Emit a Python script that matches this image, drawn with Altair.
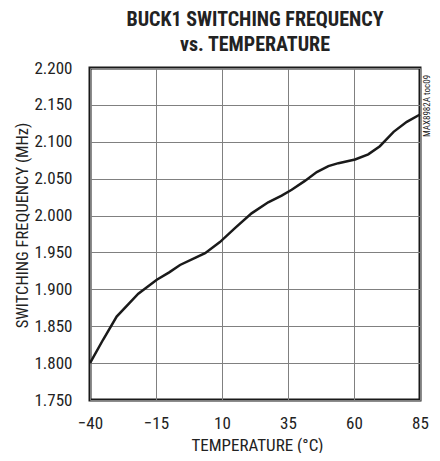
import altair as alt
import pandas as pd

temps = [-40, -35, -29.9, -25, -21.7, -14.7, -10, -5.9, 0, 3.6, 9.2, 14.9, 21.2, 27.5, 32.6, 36.4, 41.4, 45.9, 50.3, 54.1, 60.4, 65.4, 69.8, 75, 80, 85]
freqs = [1.800, 1.832, 1.863, 1.8815, 1.894, 1.913, 1.923, 1.933, 1.943, 1.949, 1.964, 1.983, 2.003, 2.018, 2.027, 2.035, 2.047, 2.059, 2.067, 2.071, 2.076, 2.083, 2.094, 2.1135, 2.127, 2.137]
x_ticks = [-40, -15, 10, 35, 60, 85]
y_ticks = [1.75, 1.80, 1.85, 1.90, 1.95, 2.00, 2.05, 2.10, 2.15, 2.20]

FONT = "Liberation Sans Narrow, Roboto Condensed, DejaVu Sans Condensed, Liberation Sans, sans-serif"

df = pd.DataFrame({"t": temps, "f": freqs})

W, H = 330, 332

line = alt.Chart(df).mark_line(color="#1a1a1a", strokeWidth=2.5).encode(
    x=alt.X("t:Q", scale=alt.Scale(domain=[-40, 85], nice=False),
            axis=alt.Axis(values=x_ticks, title="TEMPERATURE (°C)", ticks=False, domain=False,
                          labelPadding=15, labelFontSize=17, labelFont=FONT, labelColor="#222",
                          gridColor="#808080", gridWidth=1, gridOpacity=1,
                          titleFont=FONT, titleFontSize=17, titleFontWeight="normal", titleColor="#222",
                          titleX=W / 2 + 2, titleY=50, titleBaseline="alphabetic", titleAlign="center",
                          labelFlush=False, labelOverlap=False)),
    y=alt.Y("f:Q", scale=alt.Scale(domain=[1.75, 2.2], nice=False, zero=False),
            axis=alt.Axis(values=y_ticks, format=".3f", title="SWITCHING FREQUENCY (MHz)", ticks=False,
                          domain=False, labelPadding=18, labelFontSize=17, labelFont=FONT, labelColor="#222",
                          gridColor="#808080", gridWidth=1, gridOpacity=1,
                          titleFont=FONT, titleFontSize=16.5, titleFontWeight="normal", titleColor="#222",
                          titleAngle=-90, titleX=-68, titleY=157, titleBaseline="middle", titleAlign="center",
                          labelOverlap=False)),
)

note = alt.Chart(pd.DataFrame({"s": ["MAX8982A toc09"]})).mark_text(
    angle=270, fontSize=9, font=FONT, color="#222", align="center", baseline="middle"
).encode(x=alt.value(W + 7), y=alt.value(38), text="s:N")

chart = alt.layer(line, note).properties(
    width=W, height=H,
    autosize=alt.AutoSizeParams(type="none"),
    padding={"left": 82, "top": 60, "right": 12, "bottom": 53},
    title=alt.TitleParams(["BUCK1 SWITCHING FREQUENCY", "vs. TEMPERATURE"], anchor="middle",
                          font=FONT, fontSize=20, fontWeight="bold", color="#222", lineHeight=25, offset=4),
).configure_view(stroke="#1a1a1a", strokeWidth=3)

chart.save("out.html", embed_options={"renderer": "svg", "actions": False})
